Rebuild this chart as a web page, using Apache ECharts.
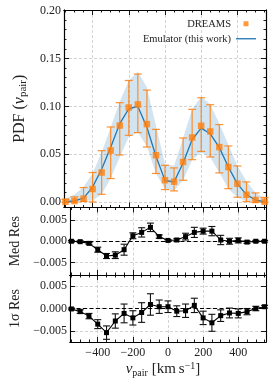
<!DOCTYPE html>
<html><head><meta charset="utf-8">
<script src="https://cdn.jsdelivr.net/npm/echarts@6/dist/echarts.min.js"></script>
<style>html,body{margin:0;padding:0;background:#fff}#c{width:270px;height:384px}</style>
</head><body><div id="c"></div>
<script>
// ---------- data ----------
const vPair = [-550,-500,-450,-400,-350,-300,-250,-200,-150,-100,-50,0,50,100,150,200,250,300,350,400,450,500,550];
const dreamsPdf = [0.0005,0.0012,0.0037,0.0138,0.031,0.054,0.080,0.0988,0.102,0.0815,0.049,0.023,0.0214,0.042,0.0675,0.0797,0.0738,0.0575,0.0367,0.0193,0.0078,0.0023,0.0005];
const dreamsHi = [0.003,0.0056,0.0153,0.031,0.0538,0.0785,0.1038,0.127,0.1337,0.117,0.076,0.0385,0.0358,0.067,0.0969,0.109,0.1017,0.081,0.0587,0.0378,0.0212,0.0097,0.005];
const dreamsLo = [0,0,0.0007,0.0003,0.0083,0.0247,0.0493,0.0698,0.0726,0.0576,0.030,0.0132,0.0118,0.0229,0.0444,0.053,0.0472,0.0306,0.0142,0.0052,0.0007,0,0];
const emuPdf = [0.0005,0.0013,0.0042,0.0158,0.0345,0.0573,0.082,0.0975,0.0999,0.0782,0.048,0.0228,0.0211,0.041,0.0654,0.0773,0.0714,0.0572,0.0367,0.0191,0.008,0.0023,0.0005];
const emuHi = [0.004,0.008,0.016,0.030,0.052,0.078,0.105,0.127,0.136,0.120,0.080,0.040,0.038,0.067,0.097,0.110,0.102,0.082,0.060,0.038,0.022,0.010,0.004];
const emuLo = [0,0,0.001,0.002,0.008,0.025,0.047,0.068,0.073,0.058,0.030,0.014,0.012,0.023,0.044,0.052,0.047,0.031,0.014,0.005,0.001,0,0];
const medRes = [0,-0.0001,-0.0005,-0.002,-0.0035,-0.0033,-0.002,0.0013,0.0021,0.0033,0.0011,0.0002,0.0003,0.0011,0.0021,0.0024,0.0024,0.0003,0,0.0002,-0.0002,0,0];
const medResErr = [0.0002,0.0002,0.0002,0.0006,0.0006,0.0008,0.0013,0.0007,0.0011,0.001,0.0004,0.0002,0.0003,0.0008,0.0012,0.0007,0.0011,0.0011,0.0007,0.0006,0.0003,0.0002,0.0002];
const sigRes = [-0.0001,-0.0007,-0.0017,-0.0035,-0.0054,-0.0028,-0.0011,-0.0021,-0.0009,0.0009,0.0004,0.0004,-0.0006,-0.0005,0.0007,-0.0021,-0.0032,-0.0016,-0.001,-0.0011,-0.0007,0,0.0004];
const sigResErr = [0.0002,0.0004,0.0006,0.001,0.0015,0.0016,0.0021,0.0016,0.0022,0.0024,0.0015,0.0013,0.0012,0.0015,0.0016,0.0015,0.0019,0.0013,0.0011,0.001,0.0007,0.0005,0.0003];

const xMajorTicks = [-400,-200,0,200,400];
const xMinorTicks = [-550,-500,-450,-350,-300,-250,-150,-100,-50,50,100,150,250,300,350,450,500,550];
const pdfMajorTicks = [0,0.05,0.10,0.15,0.20];
const pdfMinorTicks = [0.01,0.02,0.03,0.04,0.06,0.07,0.08,0.09,0.11,0.12,0.13,0.14,0.16,0.17,0.18,0.19];
const resMajorTicks = [-0.005,0,0.005];

// ---------- styling ----------
const FONT = '"Liberation Serif", "DejaVu Serif", serif';
const TXT = '#222';
const ORANGE = '#ff7f0e';
const BLUE = '#1f77b4';
const X_MIN = -558, X_MAX = 558;
const grids = [
  {left:64, right:4, top:10, height:197.5},
  {left:64, right:4, top:207.5, height:67.5},
  {left:64, right:4, top:275, height:67}
];
const yRanges = [[-0.0055,0.2005],[-0.008,0.008],[-0.0075,0.0075]];
const fmtMinus = s => s.replace('-', '\u2212');

const xAxes = [], yAxes = [];
function xAx(g, pos, ticks, len, labels, split, extra) {
  return Object.assign({
    type:'value', gridIndex:g, position:pos, min:X_MIN, max:X_MAX,
    axisLine:{show:true, onZero:false, lineStyle:{color:'#000', width:1.1}},
    axisTick:{show:true, inside:true, length:len, customValues:ticks, lineStyle:{color:'#000', width:0.9}},
    axisLabel:{show:labels, customValues:ticks, margin:5, fontFamily:FONT, fontSize:12, color:TXT,
      formatter:v => fmtMinus(String(Math.round(v)))},
    splitLine:{show:split, lineStyle:{type:[3,2], color:'#c8c8c8', width:0.8}}
  }, extra || {});
}
function yAx(g, pos, ticks, len, labels, split, dec, extra) {
  return Object.assign({
    type:'value', gridIndex:g, position:pos, min:yRanges[g][0], max:yRanges[g][1],
    axisLine:{show:true, onZero:false, lineStyle:{color:'#000', width:1.1}},
    axisTick:{show:true, inside:true, length:len, customValues:ticks, lineStyle:{color:'#000', width:0.9}},
    axisLabel:{show:labels, customValues:ticks, margin:3, fontFamily:FONT, fontSize:12, color:TXT,
      formatter:v => fmtMinus(v.toFixed(dec))},
    splitLine:{show:split, lineStyle:{type:[3,2], color:'#c8c8c8', width:0.8}}
  }, extra || {});
}
const xIdx = [], yIdx = [];
for (let g = 0; g < 3; g++) {
  xIdx.push(xAxes.length);
  const extra = g === 2 ? {
    name:'{b|v}{c|pair}{a| [km\u2009s}{d|\u22121}{a|]}', nameLocation:'middle', nameGap:19,
    nameTextStyle:{color:TXT, padding:[0,10,0,0], rich:{
      a:{fontFamily:FONT, fontSize:15, color:TXT},
      b:{fontFamily:FONT, fontSize:15, fontStyle:'italic', color:TXT},
      c:{fontFamily:FONT, fontSize:10, color:TXT, padding:[7,0,0,0]},
      d:{fontFamily:FONT, fontSize:10, color:TXT, padding:[0,0,7,0]}
    }}
  } : {};
  xAxes.push(xAx(g, 'bottom', xMajorTicks, 5, g === 2, true, extra));
  xAxes.push(xAx(g, 'bottom', xMinorTicks, 2.5, false, false));
  xAxes.push(xAx(g, 'top', xMajorTicks, 5, false, false));
  xAxes.push(xAx(g, 'top', xMinorTicks, 2.5, false, false));
}
// top panel y
yIdx.push(yAxes.length);
yAxes.push(yAx(0, 'left', pdfMajorTicks, 5, true, true, 2, {
  name:'{a|PDF (}{b|v}{c|pair}{a|)}', nameLocation:'middle', nameGap:21, nameRotate:90,
  nameTextStyle:{color:TXT, rich:{
    a:{fontFamily:FONT, fontSize:16, color:TXT},
    b:{fontFamily:FONT, fontSize:16, fontStyle:'italic', color:TXT},
    c:{fontFamily:FONT, fontSize:11, color:TXT, padding:[7,0,0,0]}
  }}
}));
yAxes.push(yAx(0, 'left', pdfMinorTicks, 2.5, false, false, 2));
yAxes.push(yAx(0, 'right', pdfMajorTicks, 5, false, false, 2));
yAxes.push(yAx(0, 'right', pdfMinorTicks, 2.5, false, false, 2));
// residual panels
const resNames = ['Med Res', '1\u03c3 Res'];
for (let g = 1; g < 3; g++) {
  yIdx.push(yAxes.length);
  yAxes.push(yAx(g, 'left', resMajorTicks, 5, true, true, 3, {
    name:resNames[g-1], nameLocation:'middle', nameGap:48, nameRotate:90,
    nameTextStyle:{fontFamily:FONT, fontSize:14, color:TXT}
  }));
  yAxes.push(yAx(g, 'right', resMajorTicks, 5, false, false, 3));
}

function errRender(capHalf, color, width, opacity) {
  return function (params, api) {
    const x = api.value(0), lo = api.value(1), hi = api.value(2);
    const p1 = api.coord([x, hi]), p2 = api.coord([x, lo]);
    const st = {stroke:color, lineWidth:width, opacity:opacity};
    return {type:'group', children:[
      {type:'line', shape:{x1:p1[0], y1:p1[1], x2:p2[0], y2:p2[1]}, style:st},
      {type:'line', shape:{x1:p1[0]-capHalf, y1:p1[1], x2:p1[0]+capHalf, y2:p1[1]}, style:st},
      {type:'line', shape:{x1:p2[0]-capHalf, y1:p2[1], x2:p2[0]+capHalf, y2:p2[1]}, style:st}
    ]};
  };
}

const bandData = vPair.map((x, i) => [x, emuLo[i], emuHi[i]]);
function bandRender(params, api) {
  if (params.dataIndex !== 0) return null;
  const pts = [];
  for (let i = 0; i < vPair.length; i++) pts.push(api.coord([vPair[i], emuHi[i]]));
  for (let i = vPair.length - 1; i >= 0; i--) pts.push(api.coord([vPair[i], emuLo[i]]));
  return {type:'polygon', shape:{points:pts}, style:{fill:'rgba(31,119,180,0.2)', stroke:'none'}};
}

const series = [
  {type:'custom', name:'band', xAxisIndex:xIdx[0], yAxisIndex:yIdx[0], renderItem:bandRender,
    data:bandData, encode:{x:0, y:[1,2]}, z:1, silent:true},
  {type:'line', name:'Emulator (this work)', xAxisIndex:xIdx[0], yAxisIndex:yIdx[0],
    data:vPair.map((x, i) => [x, emuPdf[i]]), symbol:'none', showSymbol:false, color:BLUE,
    lineStyle:{color:BLUE, width:1.3}, z:2},
  {type:'custom', name:'dreamsErr', xAxisIndex:xIdx[0], yAxisIndex:yIdx[0],
    renderItem:errRender(4, ORANGE, 1.2, 0.85),
    data:vPair.map((x, i) => [x, dreamsLo[i], dreamsHi[i]]), encode:{x:0, y:[1,2]}, z:3, silent:true},
  {type:'scatter', name:'DREAMS', xAxisIndex:xIdx[0], yAxisIndex:yIdx[0],
    data:vPair.map((x, i) => [x, dreamsPdf[i]]), symbol:'rect', symbolSize:6.5, color:ORANGE,
    itemStyle:{color:ORANGE}, z:4}
];
const resVals = [medRes, sigRes], resErrs = [medResErr, sigResErr];
for (let g = 1; g < 3; g++) {
  const vals = resVals[g-1], errs = resErrs[g-1];
  series.push({type:'custom', name:'resErr'+g, xAxisIndex:xIdx[g], yAxisIndex:yIdx[g],
    renderItem:errRender(3.5, '#111', 1.1, 1),
    data:vPair.map((x, i) => [x, vals[i]-errs[i], vals[i]+errs[i]]), encode:{x:0, y:[1,2]}, z:3, silent:true});
  series.push({type:'line', name:'res'+g, xAxisIndex:xIdx[g], yAxisIndex:yIdx[g],
    data:vPair.map((x, i) => [x, vals[i]]), symbol:'rect', symbolSize:5, showAllSymbol:true,
    color:'#000', itemStyle:{color:'#000'}, lineStyle:{color:'#000', width:1.1}, z:4,
    markLine:{silent:true, symbol:'none', label:{show:false},
      lineStyle:{color:'#000', type:[4,2.5], width:1.1}, data:[{yAxis:0}]}});
}

const chart = echarts.init(document.getElementById('c'), null, {renderer:'canvas'});
chart.setOption({
  animation:false,
  backgroundColor:'#fff',
  grid:grids,
  xAxis:xAxes,
  yAxis:yAxes,
  legend:{
    data:[{name:'DREAMS', icon:'path://M0,0h10v10h-10z'},
          {name:'Emulator (this work)', icon:'path://M0,0h20v1.3h-20z'}],
    orient:'vertical', right:14, top:18, align:'right', padding:0,
    itemWidth:20, itemHeight:5, itemGap:3.5, symbolKeepAspect:true,
    textStyle:{fontFamily:FONT, fontSize:10.5, color:TXT, lineHeight:11.5}
  },
  series:series
});
</script></body></html>
